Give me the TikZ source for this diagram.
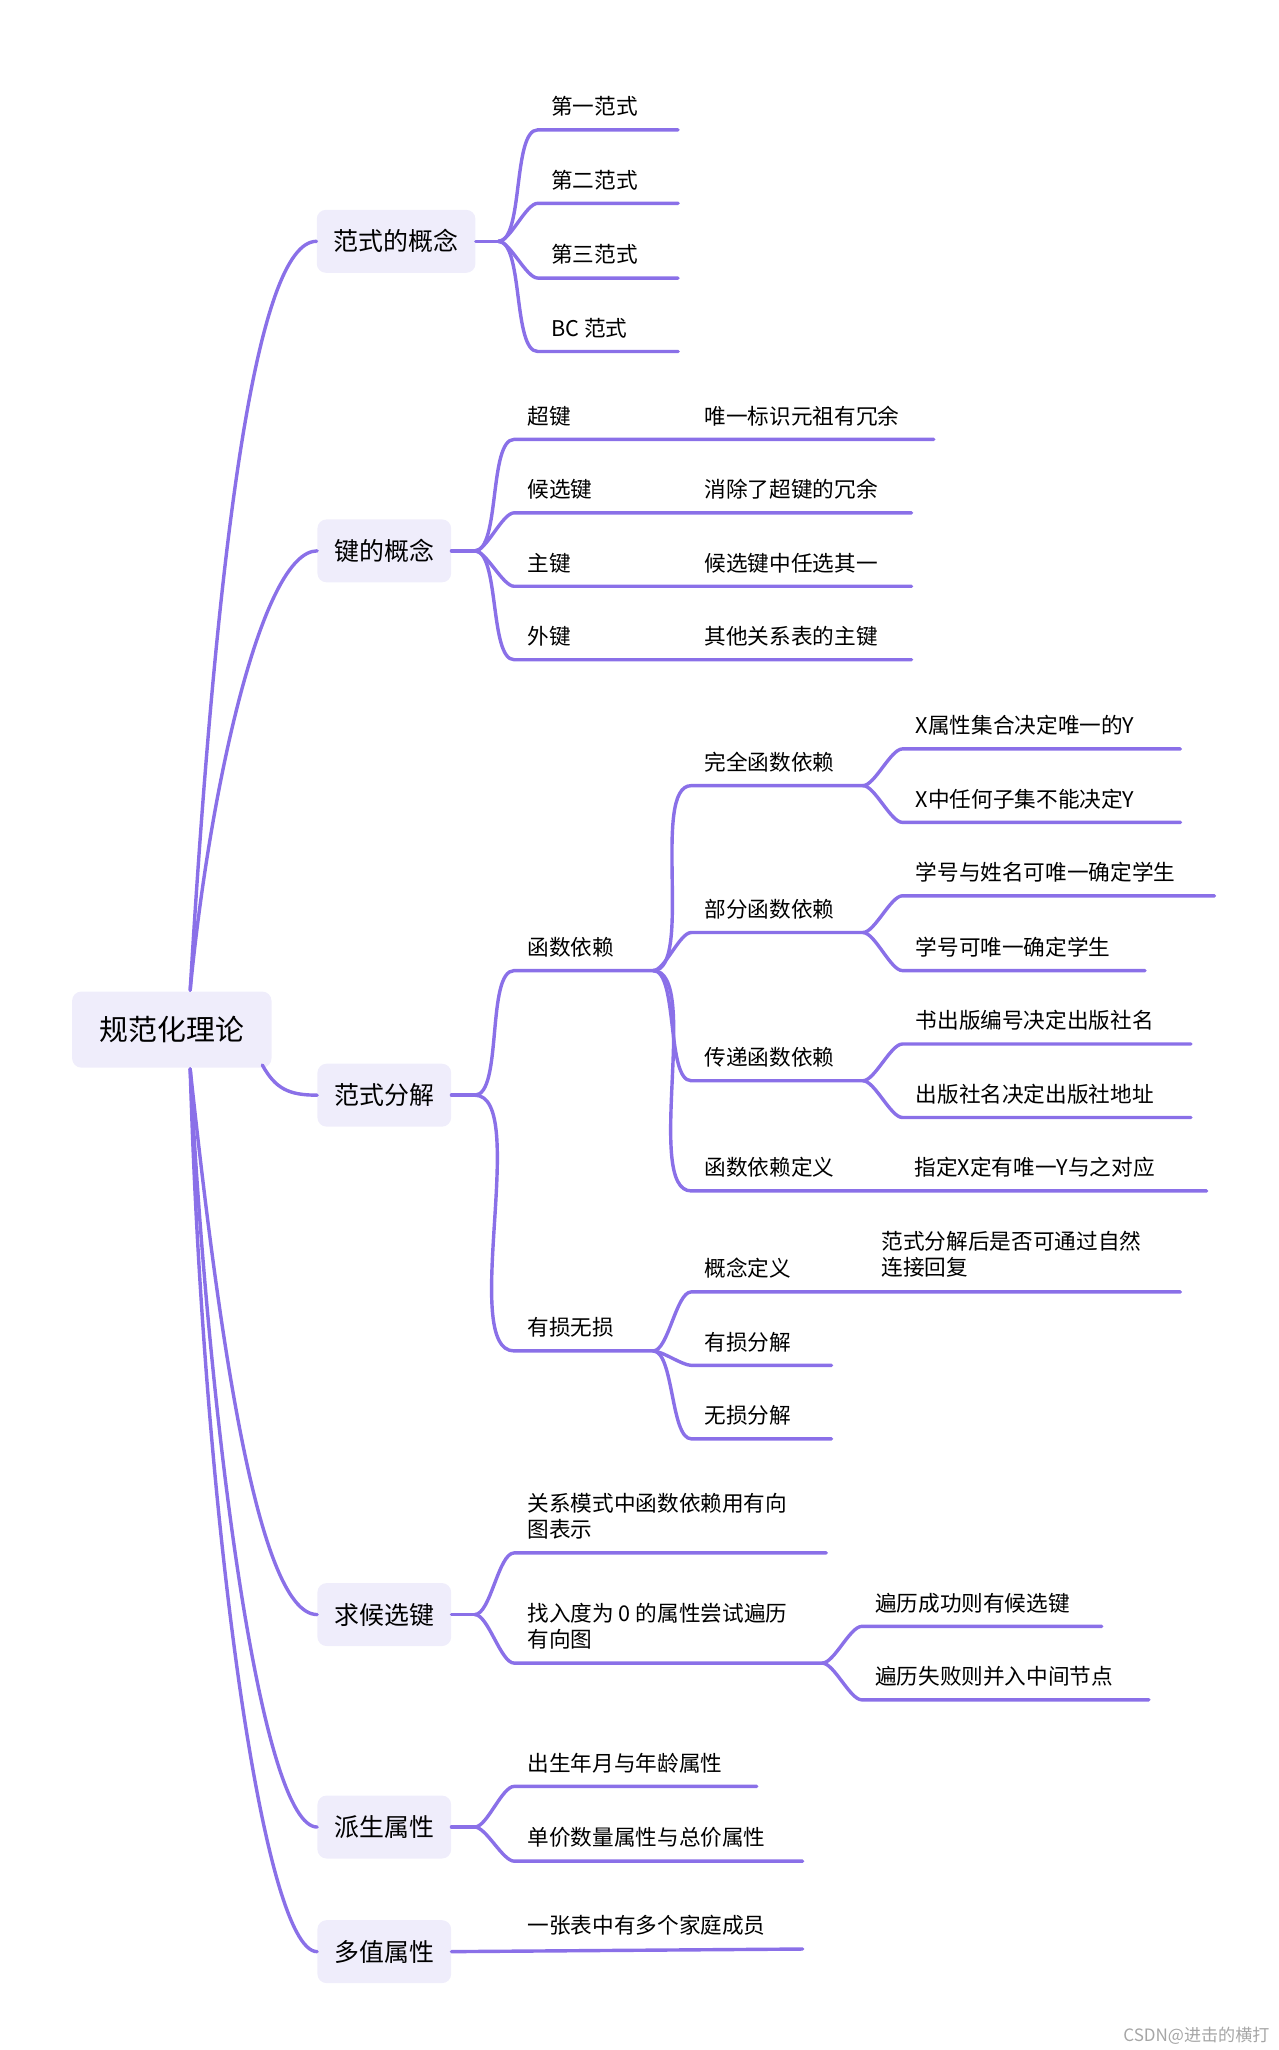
\documentclass[tikz,border=0pt]{standalone}
\usepackage{fontspec}
\setmainfont{Noto Sans CJK SC}
\usetikzlibrary{calc}
\definecolor{br}{HTML}{8A70E8}
\definecolor{bx}{HTML}{EFEDFB}
\tikzset{
 br/.style={draw=br,line width=2.6pt,line cap=round},
 box/.style={fill=bx,rounded corners=7pt,minimum height=48pt,inner xsep=13pt,font=\fontsize{19}{21}\selectfont},
 lab/.style={anchor=south west,inner sep=0pt,font=\fontsize{16.5}{20}\selectfont,align=left}
}
\newcommand\leaf[6]{%
 \coordinate (#1) at (#3,#4); \coordinate (#1e) at (#5,#4);
 \draw[br] (#2) to[out=0,in=180,looseness=0.55] (#1) -- (#1e);
 \node[lab] (#1t) at ($(#1)+(10,-10)$) {#6};}
\begin{document}
\begin{tikzpicture}[x=1pt,y=-1pt]
\useasboundingbox (0,0) rectangle (975,1563);
\node[box,minimum width=152pt,minimum height=58pt,font=\fontsize{22}{24}\selectfont] (root) at (131,785) {规范化理论};
\node[box] (a) at (302,184) {范式的概念};
\node[box] (b) at (293,420) {键的概念};
\node[box] (c) at (293,835) {范式分解};
\node[box] (d) at (293,1231) {求候选键};
\node[box] (e) at (293,1393) {派生属性};
\node[box] (f) at (293,1488) {多值属性};
\coordinate (r1) at (145,755);
\coordinate (r2) at (145,815);
\draw[br] (r1) .. controls (165,420) and (195,184) .. (a.west);
\draw[br] (r1) .. controls (160,600) and (200,420) .. (b.west);
\draw[br] (200,812) .. controls (210,830) and (220,835) .. (c.west);
\draw[br] (r2) .. controls (165,1000) and (195,1231) .. (d.west);
\draw[br] (r2) .. controls (160,1100) and (200,1393) .. (e.west);
\draw[br] (r2) .. controls (155,1150) and (200,1488) .. (f.west);
\coordinate (as) at (380,184); \draw[br] (a.east) -- (as);
\coordinate (bs) at (362,420); \draw[br] (b.east) -- (bs);
\coordinate (cs) at (362,835); \draw[br] (c.east) -- (cs);
\coordinate (ds) at (362,1231); \draw[br] (d.east) -- (ds);
\coordinate (es) at (362,1393); \draw[br] (e.east) -- (es);
\leaf{a1}{as}{410}{99}{517}{第一范式}
\leaf{a2}{as}{410}{155}{517}{第二范式}
\leaf{a3}{as}{410}{212}{517}{第三范式}
\leaf{a4}{as}{410}{268}{517}{BC 范式}
\leaf{b1}{bs}{392}{335}{712}{超键}
\leaf{b2}{bs}{392}{391}{695}{候选键}
\leaf{b3}{bs}{392}{447}{695}{主键}
\leaf{b4}{bs}{392}{503}{695}{外键}
\node[lab] at (537,325) {唯一标识元祖有冗余};
\node[lab] at (537,381) {消除了超键的冗余};
\node[lab] at (537,437) {候选键中任选其一};
\node[lab] at (537,493) {其他关系表的主键};
\leaf{c1}{cs}{392}{740}{498}{函数依赖}
\leaf{c2}{cs}{392}{1030}{498}{有损无损}
\leaf{c11}{c1e}{527}{599}{658}{完全函数依赖}
\leaf{c12}{c1e}{527}{711}{658}{部分函数依赖}
\leaf{c13}{c1e}{527}{824}{658}{传递函数依赖}
\leaf{c14}{c1e}{527}{908}{920}{函数依赖定义}
\node[lab] at (697,898) {指定X定有唯一Y与之对应};
\leaf{c111}{c11e}{688}{571}{900}{X属性集合决定唯一的Y}
\leaf{c112}{c11e}{688}{627}{900}{X中任何子集不能决定Y}
\leaf{c121}{c12e}{688}{683}{926}{学号与姓名可唯一确定学生}
\leaf{c122}{c12e}{688}{740}{873}{学号可唯一确定学生}
\leaf{c131}{c13e}{688}{796}{908}{书出版编号决定出版社名}
\leaf{c132}{c13e}{688}{852}{908}{出版社名决定出版社地址}
\leaf{c21}{c2e}{527}{985}{900}{概念定义}
\node[lab] at (672,974) {范式分解后是否可通过自然\\连接回复};
\leaf{c22}{c2e}{527}{1041}{634}{有损分解}
\leaf{c23}{c2e}{527}{1097}{634}{无损分解}
\leaf{d1}{ds}{392}{1184}{630}{关系模式中函数依赖用有向\\图表示}
\leaf{d2}{ds}{392}{1268}{627}{找入度为 0 的属性尝试遍历\\有向图}
\leaf{d21}{d2e}{657}{1240}{840}{遍历成功则有候选键}
\leaf{d22}{d2e}{657}{1296}{876}{遍历失败则并入中间节点}
\leaf{e1}{es}{392}{1362}{577}{出生年月与年龄属性}
\leaf{e2}{es}{392}{1419}{612}{单价数量属性与总价属性}
\coordinate (f1e) at (612,1486);
\draw[br] (f.east) -- (f1e);
\node[lab] at (402,1476) {一张表中有多个家庭成员};
\node[anchor=east,inner sep=0pt,text=gray!70,font=\fontsize{13}{15}\selectfont] (wm) at (968,1552) {CSDN@进击的横打};
\end{tikzpicture}
\end{document}
